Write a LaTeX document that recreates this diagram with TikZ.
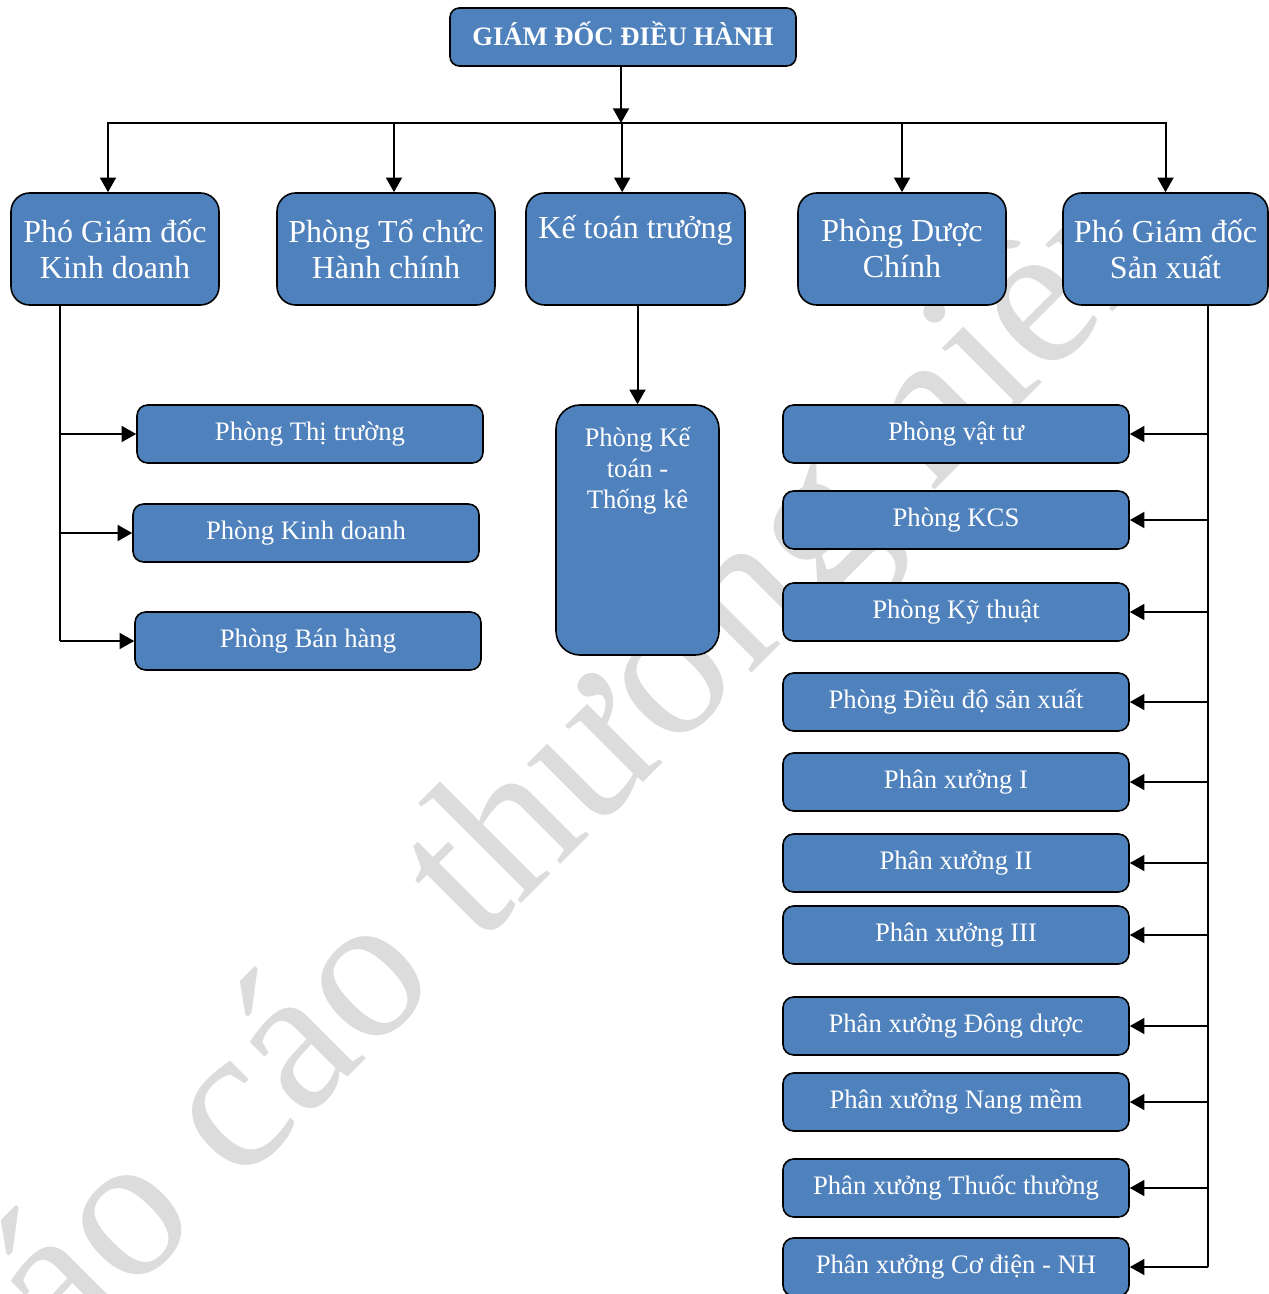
\documentclass[tikz,border=0pt]{standalone}
\usepackage{fontspec}
\setmainfont{Liberation Serif}
\usetikzlibrary{arrows.meta}
\usetikzlibrary{positioning}
\definecolor{boxblue}{HTML}{4F81BD}
\definecolor{wmgray}{HTML}{DCDCDC}
\tikzset{
  orgbox/.style={draw=black, line width=1.2pt, fill=boxblue, text=white,
    rounded corners=#1, align=center, inner sep=0pt},
  orgbox/.default=8pt,
  topbox/.style={orgbox=14pt, minimum height=84pt, font=\fontsize{24}{27}\selectfont},
  subbox/.style={orgbox=8pt, minimum width=259.5pt, minimum height=43.5pt,
    font=\fontsize{20}{23.25}\selectfont},
  inlabel/.style={text=white, align=center, inner sep=0pt, anchor=north},
  link/.style={line width=1.5pt, -{Triangle[length=11pt,width=12pt]}},
  trunk/.style={line width=1.5pt},
  wmark/.style={text=wmgray, font=\fontsize{155}{155}\selectfont, rotate=45, inner sep=0pt},
}

\begin{document}
\begin{tikzpicture}[x=0.75pt,y=-0.75pt]
    \useasboundingbox (0,0) rectangle (1269,1294);
    \begin{scope}
        \clip (0,0) rectangle (1269,1294);
        \node[wmark] (wm) at (552,803) {báo cáo thường niên};
    \end{scope}

    \node[orgbox=7pt, minimum width=259.5pt, minimum height=43.5pt, text height=13.3pt, text depth=0pt,
      font=\bfseries\fontsize{20}{22}\selectfont] (gd) at (623,37) {GIÁM ĐỐC ĐIỀU HÀNH};
    \coordinate (bus) at (621,123);

    \node[topbox, minimum width=156pt] (pkd) at (115,249) {Phó Giám đốc\\Kinh doanh};
    \node[topbox, minimum width=163.5pt] (tchc) at (386,249) {Phòng Tổ chức\\Hành chính};
    \node[topbox, minimum width=164.25pt,
      label={[inlabel, font=\fontsize{24}{27}\selectfont, yshift=-17.25pt]north:Kế toán trưởng}] (ktt) at (635.5,249) {};
    \node[topbox, minimum width=156pt] (pdc) at (902,249) {Phòng Dược\\Chính};
    \node[topbox, minimum width=153.75pt] (psx) at (1165.5,249) {Phó Giám đốc\\Sản xuất};

    \draw[link] (gd.south -| bus) -- (bus);
    \draw[trunk, line cap=rect] ([xshift=-5.25pt]pkd.north |- bus) -- (psx.north |- bus);
    \draw[link] ([xshift=-5.25pt]pkd.north |- bus) -- ([xshift=-5.25pt]pkd.north);
    \draw[link] ([xshift=6pt]tchc.north |- bus) -- ([xshift=6pt]tchc.north);
    \draw[link] ([xshift=-10pt]ktt.north |- bus) -- ([xshift=-10pt]ktt.north);
    \draw[link] (pdc.north |- bus) -- (pdc.north);
    \draw[link] (psx.north |- bus) -- (psx.north);

    \node[subbox] (ptt) at (310,434) {Phòng Thị trường};
    \node[subbox] (pkdo) at (306,533) {Phòng Kinh doanh};
    \node[subbox] (pbh) at (308,641) {Phòng Bán hàng};
    \coordinate (kdtrunk) at ([xshift=-41.25pt]pkd.south);
    \draw[trunk] (kdtrunk) -- (kdtrunk |- pbh.west);
    \foreach \n in {ptt,pkdo,pbh}
        \draw[link] (kdtrunk |- \n.west) -- (\n.west);

    \node[orgbox=18pt, minimum width=122.25pt, minimum height=187.5pt,
      label={[inlabel, font=\fontsize{20}{23.25}\selectfont, yshift=-16.75pt]north:Phòng Kế\\toán -\\Thống kê}] (pkt) at (637.5,530) {};
    \draw[link] (pkt.north |- ktt.south) -- (pkt.north);

    \node[subbox] (pvt) at (956,434) {Phòng vật tư};
    \node[subbox] (pkcs) at (956,520) {Phòng KCS};
    \node[subbox] (pkt2) at (956,612) {Phòng Kỹ thuật};
    \node[subbox] (pdd) at (956,702) {Phòng Điều độ sản xuất};
    \node[subbox] (px1) at (956,782) {Phân xưởng I};
    \node[subbox] (px2) at (956,863) {Phân xưởng II};
    \node[subbox] (px3) at (956,935) {Phân xưởng III};
    \node[subbox] (pxdd) at (956,1026) {Phân xưởng Đông dược};
    \node[subbox] (pxnm) at (956,1102) {Phân xưởng Nang mềm};
    \node[subbox] (pxtt) at (956,1188) {Phân xưởng Thuốc thường};
    \node[subbox] (pxcd) at (956,1267) {Phân xưởng Cơ điện - NH};
    \coordinate (sxtrunk) at ([xshift=31.9pt]psx.south);
    \draw[trunk] (sxtrunk) -- (sxtrunk |- pxcd.east);
    \foreach \n in {pvt,pkcs,pkt2,pdd,px1,px2,px3,pxdd,pxnm,pxtt,pxcd}
        \draw[link] (sxtrunk |- \n.east) -- (\n.east);
\end{tikzpicture}
\end{document}
